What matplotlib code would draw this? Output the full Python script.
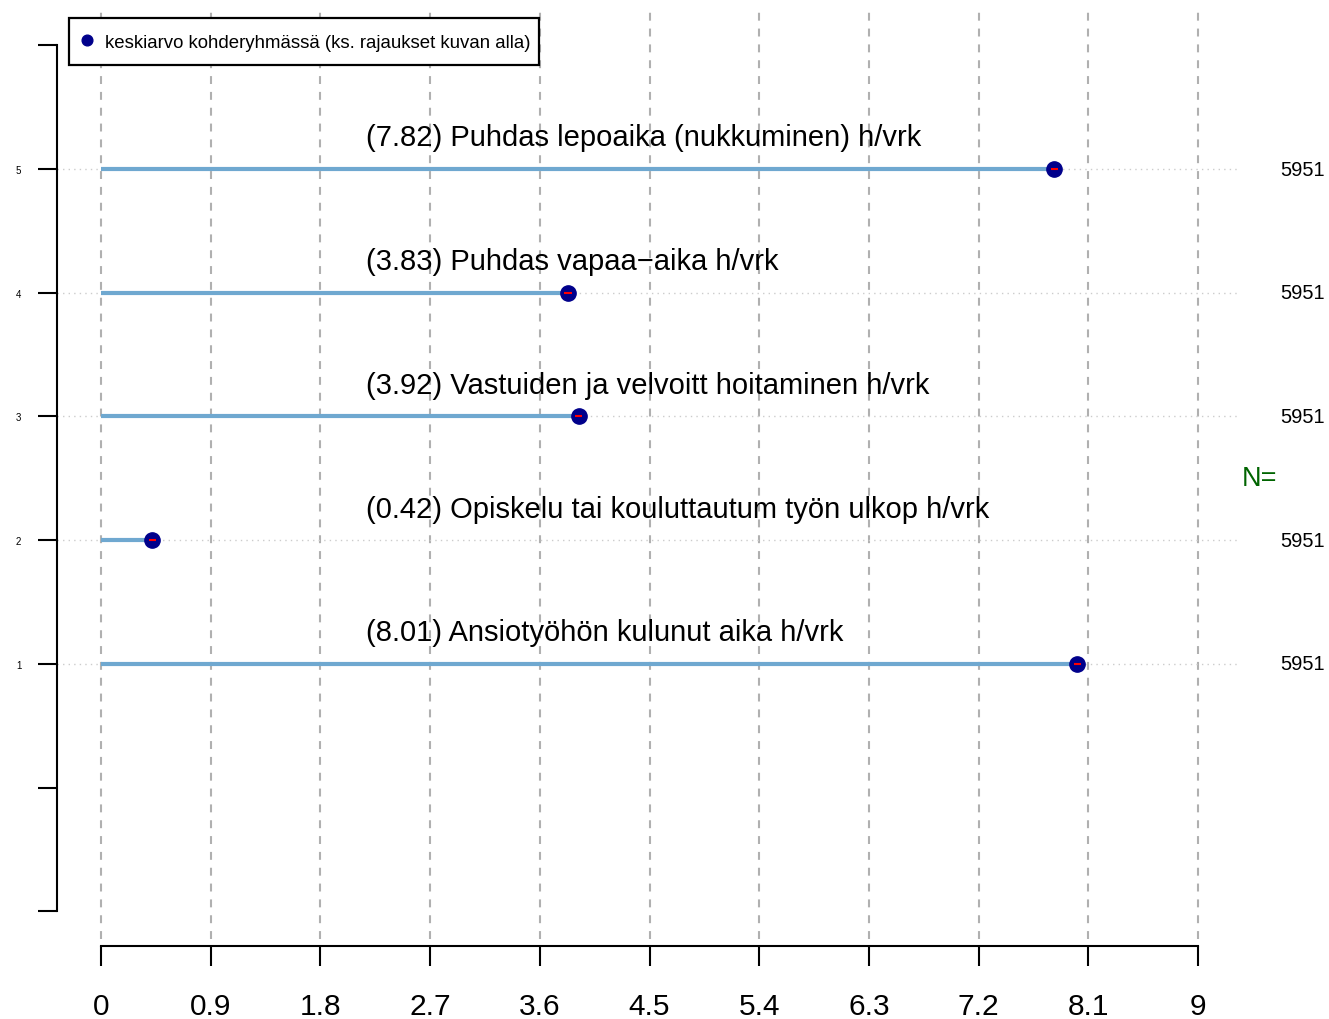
import matplotlib
matplotlib.use("Agg")
import matplotlib.pyplot as plt
from matplotlib.patches import Rectangle
from matplotlib.transforms import blended_transform_factory
import numpy as np

plt.rcParams['font.family'] = ['Liberation Sans', 'DejaVu Sans']

# data
labels = ["Ansiotyöhön kulunut aika h/vrk",
          "Opiskelu tai kouluttautum työn ulkop h/vrk",
          "Vastuiden ja velvoitt hoitaminen h/vrk",
          "Puhdas vapaa\u2212aika h/vrk",
          "Puhdas lepoaika (nukkuminen) h/vrk"]
means = [8.01, 0.42, 3.92, 3.83, 7.82]
ci_half = [0.03, 0.03, 0.03, 0.03, 0.03]
n_obs = [5951, 5951, 5951, 5951, 5951]
xticks = [0, 0.9, 1.8, 2.7, 3.6, 4.5, 5.4, 6.3, 7.2, 8.1, 9]
xtick_labels = ["0", "0.9", "1.8", "2.7", "3.6", "4.5", "5.4", "6.3", "7.2", "8.1", "9"]
yticks = [-1, 0, 1, 2, 3, 4, 5, 6]
ytick_labels = ["", "", "1", "2", "3", "4", "5", ""]

W, H = 1329, 1020
fig = plt.figure(figsize=(W / 100, H / 100), dpi=100)
ax = fig.add_axes([57 / W, (H - 947) / H, (1240 - 57) / W, (947 - 10) / H])
ax.set_xlim(-0.361, 9.344)
ax.set_ylim(-1.279, 6.293)

# grid
for xv in xticks:
    ax.axvline(xv, ymin=0.008, ymax=1, color='#b0b0b0', lw=1.5,
               linestyle=(0, (3.8, 3.8)), zorder=1)
ypos = np.arange(1, len(means) + 1)
for y in ypos:
    ax.axhline(y, color='#cccccc', lw=1, linestyle=(0, (1, 3)), zorder=1)

# bars, points
ax.hlines(ypos, 0, means, color='#6fa8d0', lw=3, zorder=2)
ax.plot(means, ypos, 'o', color='#00008b', ms=11, zorder=3,
        label="keskiarvo kohderyhmässä (ks. rajaukset kuvan alla)")
ax.hlines(ypos, np.array(means) - np.array(ci_half), np.array(means) + np.array(ci_half),
          color='red', lw=1.5, zorder=4)

for y, m, lab in zip(ypos, means, labels):
    ax.text(2.17, y + 0.19, "(%.2f) %s" % (m, lab), fontsize=21, ha='left', va='baseline')

tr = blended_transform_factory(fig.transFigure, ax.transData)
for y, n in zip(ypos, n_obs):
    ax.text(1325 / W, y, str(n), transform=tr, fontsize=14.5,
            ha='right', va='center', clip_on=False)
ax.text(1242 / W, 2.5, "N=", transform=tr, fontsize=19.5, color='#006400',
        ha='left', va='center', clip_on=False)

# axes
for s in ['top', 'right']:
    ax.spines[s].set_visible(False)
ax.spines['left'].set_bounds(-1, 6)
ax.spines['bottom'].set_bounds(0, 9)
ax.spines['left'].set_linewidth(1.5)
ax.spines['bottom'].set_linewidth(1.5)
ax.set_xticks(xticks)
ax.set_xticklabels(xtick_labels, fontsize=21.5)
ax.set_yticks(yticks)
ax.set_yticklabels(ytick_labels, fontsize=7)
ax.tick_params(axis='x', length=14.4, width=1.5, pad=19)
ax.tick_params(axis='y', length=13.7, width=1.5, pad=12)

# legend box (R style, square frame)
box = Rectangle((69 / W, 1 - 66 / H), (539 - 69) / W, 47 / H, transform=fig.transFigure,
                facecolor='white', edgecolor='black', lw=1.6, zorder=4.5, clip_on=False)
ax.add_patch(box)
leg = ax.legend(loc='center left', bbox_to_anchor=(79.5 / W, 1 - 43 / H),
                bbox_transform=fig.transFigure, fontsize=13.4, frameon=False,
                handlelength=0.8, handletextpad=0.55, borderpad=0,
                borderaxespad=0, markerscale=0.7)
leg.set_zorder(5)

fig.savefig("out.png", dpi=100)
